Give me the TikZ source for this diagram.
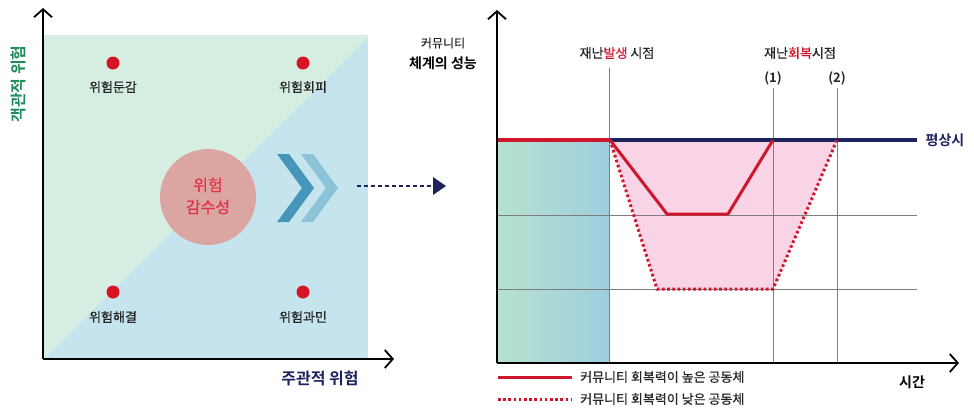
\documentclass[tikz,border=0pt]{standalone}
\usepackage{fontspec}
\setmainfont{Noto Sans CJK KR}[BoldFont={Noto Sans CJK KR Bold}]
\newfontfamily\medfont{Noto Sans CJK KR}[FakeBold=0.6]
\usetikzlibrary{arrows.meta}
\definecolor{mint}{RGB}{214,238,226}
\definecolor{lblue}{RGB}{197,228,238}
\definecolor{dotred}{RGB}{215,20,35}
\definecolor{circfill}{RGB}{219,166,162}
\definecolor{circtext}{RGB}{226,50,70}
\definecolor{chevA}{RGB}{70,150,186}
\definecolor{chevB}{RGB}{140,195,215}
\definecolor{navy}{RGB}{30,35,95}
\definecolor{glabel}{RGB}{30,140,90}
\definecolor{lred}{RGB}{208,22,45}
\definecolor{pinkfill}{RGB}{248,212,230}
\definecolor{gradL}{RGB}{183,226,207}
\definecolor{gradR}{RGB}{158,206,222}
\definecolor{gridgray}{RGB}{125,125,125}
\tikzset{
  axisline/.style={line width=1.8pt, black, -{Straight Barb[length=8pt,width=18pt,line width=1.8pt]}},
  riskdot/.style={circle, fill=dotred, inner sep=0pt, minimum size=13pt},
  qlabel/.style={font=\medfont\fontsize{13}{15}\selectfont, text=black!85, inner sep=0pt},
  gridline/.style={gridgray, line width=0.8pt},
  hiline/.style={lred, line width=3pt, line join=round},
  loline/.style={lred, line width=3pt, dash pattern=on 2.6pt off 2.6pt},
  lbl/.style={font=\medfont\fontsize{13}{15}\selectfont, text=black!85, inner sep=0pt},
}
\begin{document}
\begin{tikzpicture}[x=1pt,y=-1pt]
\useasboundingbox (0,0) rectangle (974,416);
% ---------------- left panel ----------------
\fill[lblue] (43,35) rectangle (368,359);
\fill[mint] (43,35) -- (368,35) -- (368,38) -- (43,359) -- cycle;
\coordinate (lo) at (43,359);
\coordinate (ly) at (43,8);
\coordinate (lx) at (394,359);
\draw[axisline] (lo) -- (ly);
\draw[axisline] (lo) -- (lx);
\node[rotate=90, font=\bfseries\fontsize{16}{18}\selectfont, text=glabel, inner sep=0pt] (ylab) at (18,84) {객관적 위험};
\node[font=\bfseries\fontsize{16}{18}\selectfont, text=navy, inner sep=0pt] (xlab) at (320,378) {주관적 위험};
\node[riskdot] (d1) at (113,63) {};
\node[qlabel] (t1) at (113,87) {위험둔감};
\node[riskdot] (d2) at (303,63) {};
\node[qlabel] (t2) at (303,87) {위험회피};
\node[riskdot] (d3) at (113,292) {};
\node[qlabel] (t3) at (113,317) {위험해결};
\node[riskdot] (d4) at (303,292) {};
\node[qlabel] (t4) at (303,317) {위험과민};
\node[circle, fill=circfill, minimum size=96pt, inner sep=0pt] (sens) at (208,197) {};
\node[font=\medfont\fontsize{16}{22}\selectfont, text=circtext, align=center, inner sep=0pt] (senst) at (208,196) {위험\\감수성};
\fill[chevA] (277,154) -- (289,154) -- (314,188) -- (289,222) -- (277,222) -- (302,188) -- cycle;
\fill[chevB] (301,154) -- (313,154) -- (338,188) -- (313,222) -- (301,222) -- (326,188) -- cycle;
\coordinate (as) at (357,186);
\coordinate (ae) at (433,186);
\draw[navy, line width=2.5pt, dash pattern=on 4pt off 3pt] (as) -- (ae);
\fill[navy] (433,177) -- (446,186) -- (433,195) -- cycle;
% ---------------- right panel ----------------
\shade[left color=gradL, right color=gradR] (497,140) rectangle (609,363);
\fill[pinkfill] (610,140) -- (657,289) -- (773,289) -- (837,140) -- cycle;
\coordinate (g1a) at (497,215); \coordinate (g1b) at (917,215);
\coordinate (g2a) at (497,289); \coordinate (g2b) at (917,289);
\draw[gridline] (g1a) -- (g1b);
\draw[gridline] (g2a) -- (g2b);
\coordinate (v0t) at (609,68); \coordinate (v0b) at (609,363);
\coordinate (v1t) at (773,88); \coordinate (v1b) at (773,363);
\coordinate (v2t) at (837,88); \coordinate (v2b) at (837,363);
\draw[gridline] (v0t) -- (v0b);
\draw[gridline] (v1t) -- (v1b);
\draw[gridline] (v2t) -- (v2b);
\coordinate (n0) at (497,140); \coordinate (n1) at (610,140); \coordinate (n2) at (917,140);
\draw[navy, line width=4.5pt] (n1) -- (n2);
\draw[lred, line width=4.5pt] (n0) -- (n1);
\draw[loline] (n1) -- (657,289) -- (773,289) -- (837,140);
\draw[hiline] (n1) -- (667,214) -- (728,214) -- (773,140);
\coordinate (ro) at (497,363);
\coordinate (ry) at (497,10);
\coordinate (rx) at (959,363);
\draw[axisline] (ro) -- (ry);
\draw[axisline] (ro) -- (rx);
\node[lbl, font=\medfont\fontsize{12}{14}\selectfont] (yl1) at (443,43) {커뮤니티};
\node[lbl, font=\bfseries\fontsize{14}{16}\selectfont, text=black] (yl2) at (443,63) {체계의 성능};
\node[lbl] (ev0) at (617,53) {재난\textcolor{lred}{발생} 시점};
\node[lbl] (ev1) at (800,53) {재난\textcolor{lred}{회복}시점};
\node[lbl, font=\bfseries\fontsize{13}{15}\selectfont] (p1) at (773,78) {(1)};
\node[lbl, font=\bfseries\fontsize{13}{15}\selectfont] (p2) at (837,78) {(2)};
\node[lbl, font=\bfseries\fontsize{14}{16}\selectfont, text=navy] (norm) at (945,140) {평상시};
\node[lbl, font=\bfseries\fontsize{14}{16}\selectfont, text=black] (time) at (912,382) {시간};
\coordinate (lg1a) at (498,377); \coordinate (lg1b) at (572,377);
\coordinate (lg2a) at (498,399); \coordinate (lg2b) at (572,399);
\draw[hiline] (lg1a) -- (lg1b);
\draw[loline] (lg2a) -- (lg2b);
\node[lbl, anchor=west] (lt1) at (580,377) {커뮤니티 회복력이 높은 공동체};
\node[lbl, anchor=west] (lt2) at (580,399) {커뮤니티 회복력이 낮은 공동체};
\end{tikzpicture}
\end{document}
